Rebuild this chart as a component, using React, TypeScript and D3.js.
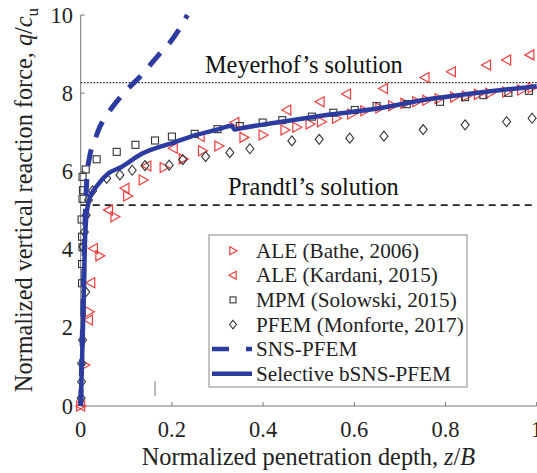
import React from "react";
import * as d3 from "d3";

type P = [number, number];

const xTicks = [0, 0.2, 0.4, 0.6, 0.8, 1];
const xTickLabels = ["0", "0.2", "0.4", "0.6", "0.8", "1"];
const yTicks = [0, 2, 4, 6, 8, 10];
const yTickLabels = ["0", "2", "4", "6", "8", "10"];

const meyerhof = 8.27;
const prandtl = 5.14;

const bathe: P[] = [[0, 0], [0.009, 1.05], [0.019, 2.41], [0.042, 3.84], [0.075, 4.84], [0.103, 5.37], [0.137, 5.78], [0.183, 6.1], [0.225, 6.32], [0.267, 6.53], [0.303, 6.65], [0.358, 6.87], [0.4, 6.93], [0.448, 7.06], [0.474, 7.13], [0.503, 7.21], [0.528, 7.27], [0.561, 7.36], [0.594, 7.47], [0.623, 7.55], [0.656, 7.62], [0.684, 7.68], [0.711, 7.74], [0.737, 7.78], [0.759, 7.82], [0.786, 7.86], [0.82, 7.9], [0.846, 7.93], [0.872, 7.97], [0.897, 8.0], [0.934, 8.03], [0.967, 8.08], [0.99, 8.14]];

const kardani: P[] = [[0, 0], [0.017, 2.2], [0.022, 3.15], [0.028, 4.03], [0.061, 5.01], [0.097, 5.57], [0.145, 6.14], [0.203, 6.59], [0.262, 6.89], [0.338, 7.25], [0.452, 7.57], [0.525, 7.78], [0.583, 7.98], [0.664, 8.12], [0.755, 8.4], [0.813, 8.55], [0.89, 8.72], [0.934, 8.85], [0.985, 8.98]];

const mpm: P[] = [[0.003, 3.14], [0.003, 3.63], [0.004, 4.06], [0.003, 4.33], [0.002, 4.77], [0.004, 5.3], [0.005, 5.52], [0.004, 5.86], [0.011, 6.05], [0.035, 6.31], [0.079, 6.5], [0.12, 6.68], [0.163, 6.79], [0.2, 6.89], [0.25, 6.96], [0.3, 7.08], [0.349, 7.16], [0.399, 7.25], [0.442, 7.31], [0.507, 7.4], [0.554, 7.5], [0.601, 7.57], [0.649, 7.67], [0.715, 7.72], [0.788, 7.78], [0.843, 7.9], [0.883, 7.95], [0.938, 8.01], [0.983, 8.06]];

const pfem: P[] = [[0.001, 0.2], [0.002, 0.62], [0.002, 1.09], [0.004, 1.69], [0.011, 2.92], [0.005, 4.07], [0.008, 4.45], [0.012, 4.88], [0.017, 5.27], [0.026, 5.5], [0.057, 5.82], [0.086, 5.91], [0.113, 6.03], [0.141, 6.15], [0.194, 6.16], [0.224, 6.3], [0.274, 6.38], [0.327, 6.48], [0.371, 6.58], [0.463, 6.78], [0.523, 6.82], [0.59, 6.85], [0.665, 6.9], [0.751, 7.07], [0.843, 7.19], [0.934, 7.27], [0.99, 7.36]];

const snsPfem: P[] = [[0, 0], [0.004, 2], [0.008, 4], [0.011, 5.2], [0.014, 5.9], [0.02, 6.4], [0.031, 6.8], [0.042, 7.14], [0.06, 7.49], [0.082, 7.83], [0.104, 8.12], [0.13, 8.42], [0.152, 8.72], [0.174, 9.02], [0.196, 9.3], [0.214, 9.6], [0.234, 10.0]];

const selective: P[] = [[0, 0], [0.005, 2.0], [0.0094, 4.25], [0.012, 4.8], [0.016, 5.15], [0.022, 5.38], [0.035, 5.62], [0.061, 5.95], [0.087, 6.1], [0.134, 6.45], [0.207, 6.75], [0.25, 6.92], [0.303, 7.08], [0.331, 7.17], [0.337, 7.07], [0.35, 7.1], [0.452, 7.29], [0.539, 7.44], [0.647, 7.6], [0.755, 7.83], [0.864, 8.0], [1.0, 8.18]];

const strayMark: P[] = [[0.163, 0.25], [0.163, 0.63]];

const legendLabels = ["ALE (Bathe, 2006)", "ALE (Kardani, 2015)", "MPM (Solowski, 2015)", "PFEM (Monforte, 2017)", "SNS-PFEM", "Selective bSNS-PFEM"];

const RED = "#f23c3c";
const BLACK = "#333";
const BLUE = "#2c3b9f";
const FONT = "'Liberation Serif', 'Times New Roman', serif";

function Marker({ kind, x, y, s = 1 }: { kind: string; x: number; y: number; s?: number }) {
  if (kind === "right") {
    const p = `${x - 4 * s},${y - 5 * s} ${x + 5 * s},${y} ${x - 4 * s},${y + 5 * s}`;
    return <polygon points={p} fill="none" stroke={RED} strokeWidth={1.2} />;
  }
  if (kind === "left") {
    const p = `${x + 4 * s},${y - 5 * s} ${x - 5 * s},${y} ${x + 4 * s},${y + 5 * s}`;
    return <polygon points={p} fill="none" stroke={RED} strokeWidth={1.2} />;
  }
  if (kind === "square") {
    return <rect x={x - 3.5 * s} y={y - 3.5 * s} width={7 * s} height={7 * s} fill="none" stroke={BLACK} strokeWidth={1.1} />;
  }
  const p = `${x},${y - 5 * s} ${x + 4 * s},${y} ${x},${y + 5 * s} ${x - 4 * s},${y}`;
  return <polygon points={p} fill="none" stroke={BLACK} strokeWidth={1.1} />;
}

export default function App() {
  const W = 537, H = 473;
  const x = d3.scaleLinear().domain([0, 1]).range([80.7, 536.7]);
  const y = d3.scaleLinear().domain([0, 10]).range([406, 15]);
  const line = d3.line<P>().x(d => x(d[0])).y(d => y(d[1])).curve(d3.curveMonotoneX);
  const x0 = x(0), x1 = x(1), y0 = y(0), yTop = y(10);

  const lx = 209, ly = 235, lw = 258, lh = 152;
  const rowY = (i: number) => ly + 15.7 + i * 24.6;

  return (
    <svg width={W} height={H} style={{ position: "absolute", left: 0, top: 0, background: "#fff" }} fontFamily={FONT}>
      {/* reference lines */}
      <line x1={x0} x2={x1} y1={y(meyerhof)} y2={y(meyerhof)} stroke="#222" strokeWidth={1.4} strokeDasharray="1.6,1.6" />
      <line x1={x0} x2={x1} y1={y(prandtl)} y2={y(prandtl)} stroke="#222" strokeWidth={1.8} strokeDasharray="7,5" />
      <text x={205} y={73} fontSize={24.3} fill="#111">Meyerhof’s solution</text>
      <text x={228} y={195} fontSize={24.3} fill="#111">Prandtl’s solution</text>

      {/* axes */}
      <g stroke="#777" strokeWidth={1} fill="none">
        <line x1={x0} x2={x0} y1={yTop} y2={y0} />
        <line x1={x0} x2={x1} y1={y0} y2={y0} />
        {xTicks.map((t, i) => <line key={"xt" + i} x1={x(t)} x2={x(t)} y1={y0} y2={y0 - 4} />)}
        {yTicks.map((t, i) => <line key={"yt" + i} x1={x0} x2={x0 + 4} y1={y(t)} y2={y(t)} />)}
        <line x1={x(strayMark[0][0])} x2={x(strayMark[1][0])} y1={y(strayMark[0][1])} y2={y(strayMark[1][1])} />
      </g>
      {xTicks.map((t, i) => (
        <text key={"xl" + i} x={x(t)} y={437} fontSize={22.5} textAnchor="middle" fill="#222">{xTickLabels[i]}</text>
      ))}
      {yTicks.map((t, i) => (
        <text key={"yl" + i} x={73} y={y(t) + 7.5} fontSize={22.5} textAnchor="end" fill="#222">{yTickLabels[i]}</text>
      ))}
      <text x={308.5} y={465} fontSize={24.3} textAnchor="middle" fill="#222">
        Normalized penetration depth, <tspan fontStyle="italic">z</tspan>/<tspan fontStyle="italic">B</tspan>
      </text>
      <text transform={`translate(32,200) rotate(-90)`} fontSize={24.3} textAnchor="middle" fill="#222">
        Normalized vertical reaction force, <tspan fontStyle="italic">q</tspan>/<tspan fontStyle="italic">c</tspan><tspan fontSize={17} dy={6}>u</tspan>
      </text>

      {/* markers */}
      {bathe.map((d, i) => <Marker key={"b" + i} kind="right" x={x(d[0])} y={y(d[1])} />)}
      {kardani.map((d, i) => <Marker key={"k" + i} kind="left" x={x(d[0])} y={y(d[1])} />)}
      {mpm.map((d, i) => <Marker key={"m" + i} kind="square" x={x(d[0])} y={y(d[1])} />)}
      {pfem.map((d, i) => <Marker key={"p" + i} kind="diamond" x={x(d[0])} y={y(d[1])} />)}

      {/* lines */}
      <path d={line(snsPfem) || ""} fill="none" stroke={BLUE} strokeWidth={5} strokeDasharray="17,13" />
      <path d={line(selective) || ""} fill="none" stroke={BLUE} strokeWidth={4.5} strokeLinejoin="round" />

      {/* legend */}
      <rect x={lx} y={ly} width={lw} height={lh} fill="#fff" stroke="#888" strokeWidth={1} />
      {legendLabels.map((l, i) => (
        <text key={"lg" + i} x={256} y={rowY(i) + 7} fontSize={21.2} fill="#222">{l}</text>
      ))}
      <Marker kind="right" x={233} y={rowY(0)} s={0.8} />
      <Marker kind="left" x={233} y={rowY(1)} s={0.8} />
      <Marker kind="square" x={233} y={rowY(2)} s={0.85} />
      <Marker kind="diamond" x={233} y={rowY(3)} s={0.85} />
      <line x1={212} x2={252} y1={rowY(4)} y2={rowY(4)} stroke={BLUE} strokeWidth={4.5} strokeDasharray="17,17" />
      <line x1={212} x2={252} y1={rowY(5)} y2={rowY(5)} stroke={BLUE} strokeWidth={4.5} />
    </svg>
  );
}
